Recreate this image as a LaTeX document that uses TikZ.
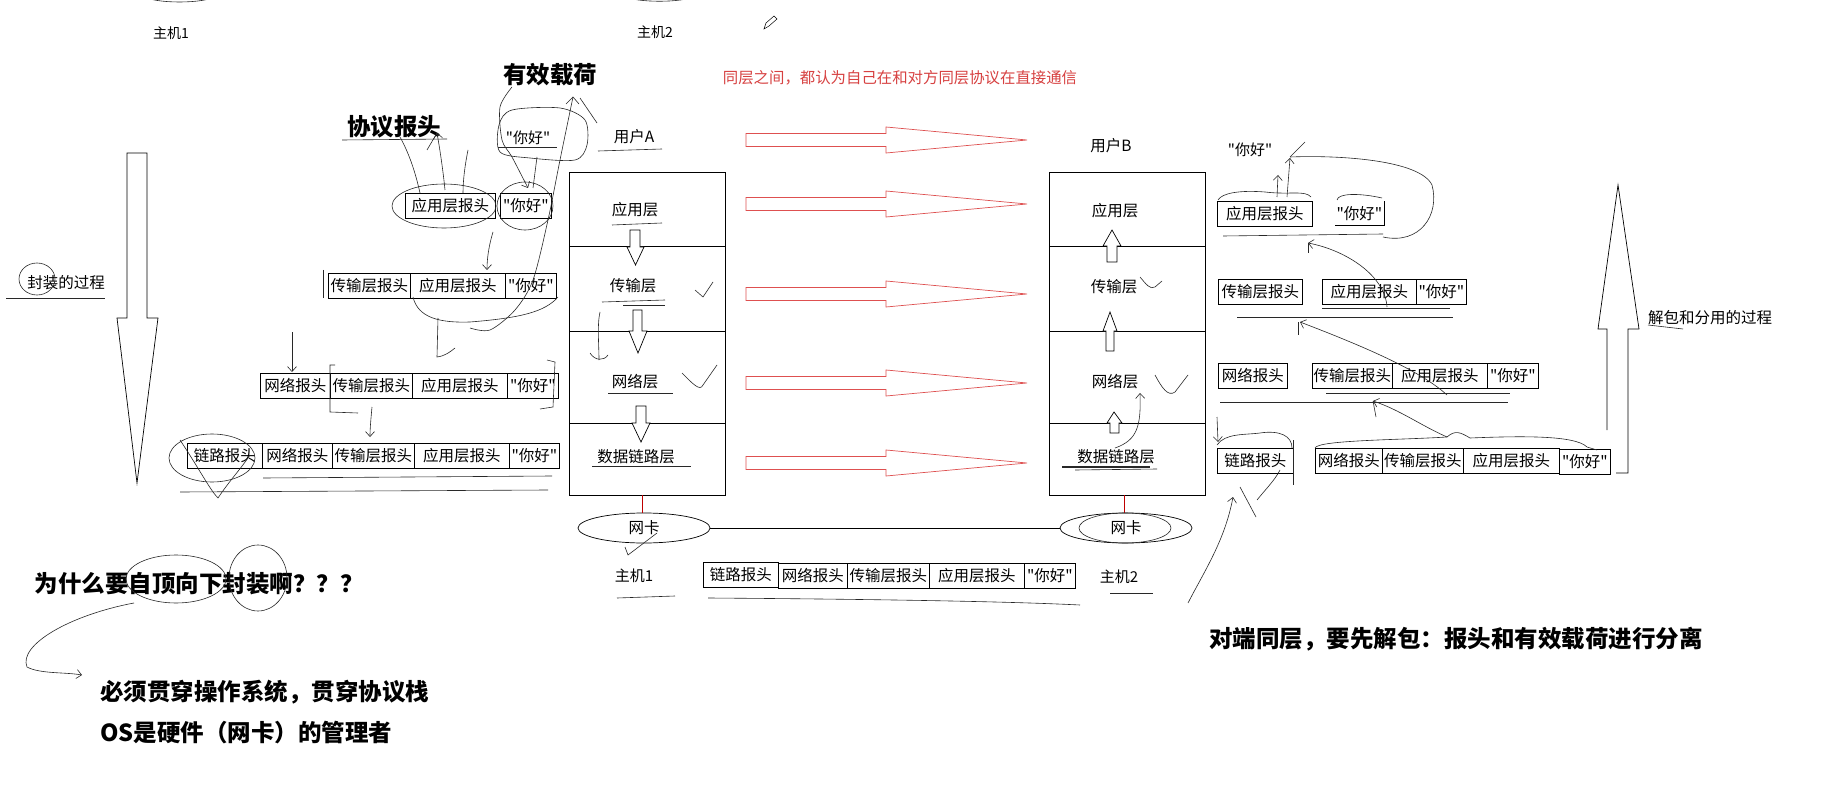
\documentclass[tikz,border=0pt]{standalone}
\usepackage{fontspec}
\setmainfont{Noto Sans CJK SC}[Ligatures=TeXOff]
\usetikzlibrary{shapes.geometric,arrows.meta}
\definecolor{redln}{RGB}{222,80,80}
\definecolor{redtx}{RGB}{215,65,65}
\definecolor{inkc}{RGB}{40,40,40}
\tikzset{
  pk/.style={draw, line width=0.7pt, minimum height=25pt, inner sep=0pt, anchor=north west, font=\fontsize{15.5}{15.5}\selectfont},
  layerbox/.style={draw, line width=0.8pt, anchor=north west, minimum width=156pt, inner sep=0pt},
  lay/.style={font=\fontsize{15.5}{15.5}\selectfont, inner sep=1pt},
  lbl/.style={font=\fontsize{15}{15}\selectfont, inner sep=1pt},
  small/.style={font=\fontsize{14}{14}\selectfont, inner sep=1pt},
  big/.style={font=\bfseries\fontsize{23.5}{23.5}\selectfont, inner sep=1pt},
  ink/.style={line width=0.6pt, draw=inkc},
  inkarr/.style={ink, -{Straight Barb[length=5pt,width=9pt]}},
  redarrow/.style={draw=redln, line width=0.7pt, fill=white},
  blk/.style={draw, line width=0.7pt, fill=white},
  nic/.style={ellipse, draw, line width=0.7pt, minimum width=132pt, minimum height=30pt, inner sep=0pt, font=\fontsize{15.5}{15.5}\selectfont},
}
\begin{document}
\begin{tikzpicture}[x=1pt,y=-1pt]
\fill[white] (0,0) rectangle (1840,805);
\useasboundingbox (0,0) rectangle (1840,805);

% ---------- top labels ----------
\draw[ink] (142,-4) .. controls (155,4) and (204,4) .. (217,-4);
\draw[ink] (623,-4) .. controls (636,3) and (683,3) .. (696,-4);
\node[small] (h1top) at (171,33) {主机1};
\node[small] (h2top) at (655,32) {主机2};
\draw[line width=0.5pt] (764,29) -- (766,23) -- (774,16) -- (777,19) -- (769,26) -- cycle;
\node[font=\fontsize{15.4}{15.4}\selectfont, text=redtx, inner sep=1pt] (peer) at (900,78) {同层之间，都认为自己在和对方同层协议在直接通信};

\node[big] (payload) at (550,75) {有效载荷};
\node[big] (proto) at (394,127) {协议报头};
\draw[ink] (342,140) -- (447,139);
\node[lbl] (hello0) at (528,138) {"你好"};
\draw[ink] (498,147) -- (557,147);

% ---------- left encapsulation packets ----------
\node[pk, minimum width=90pt] (L1a) at (405,193) {应用层报头};
\node[pk, minimum width=51pt] (L1d) at (500,193) {"你好"};

\node[pk, minimum width=82pt] (L2t) at (328,273) {传输层报头};
\node[pk, minimum width=95pt] (L2a) at (410,273) {应用层报头};
\node[pk, minimum width=51pt] (L2d) at (505,273) {"你好"};
\draw[ink] (323,270) -- (323,298);

\node[pk, minimum width=70pt] (L3n) at (260,373) {网络报头};
\node[pk, minimum width=82pt] (L3t) at (330,373) {传输层报头};
\node[pk, minimum width=95pt] (L3a) at (412,373) {应用层报头};
\node[pk, minimum width=51pt] (L3d) at (507,373) {"你好"};

\node[pk, minimum width=75pt] (L4l) at (187,443) {链路报头};
\node[pk, minimum width=70pt] (L4n) at (262,443) {网络报头};
\node[pk, minimum width=82pt] (L4t) at (332,443) {传输层报头};
\node[pk, minimum width=95pt] (L4a) at (414,443) {应用层报头};
\node[pk, minimum width=50pt] (L4d) at (509,443) {"你好"};
\draw[ink] (263,478) -- (552,476);
\draw[ink] (180,492) -- (548,490);

% left big arrow
\draw[line width=0.7pt] (127,153) -- (147,153) -- (147,318) -- (158,318) -- (137,483) -- (117,318) -- (127,318) -- cycle;
\node[lay] (encap) at (66,283) {封装的过程};
\draw[ink] (6,298) -- (105,298);
\draw[ink] (37,279) ellipse [x radius=18pt, y radius=16pt];

% ---------- stack A ----------
\node[lay] (userA) at (634,137) {用户A};
\draw[ink] (598,151) -- (662,149);
\node[layerbox, minimum height=74pt] (A1) at (569,172) {};
\node[layerbox, minimum height=85pt] (A2) at (569,246) {};
\node[layerbox, minimum height=92pt] (A3) at (569,331) {};
\node[layerbox, minimum height=72pt] (A4) at (569,423) {};
\node[lay] (A1t) at (635,210) {应用层};
\node[lay] (A2t) at (633,286) {传输层};
\node[lay] (A3t) at (635,382) {网络层};
\node[lay] (A4t) at (636,457) {数据链路层};
\draw[ink] (612,225) -- (662,223);
\draw[ink] (602,302) -- (665,300);
\draw[ink] (623,305) -- (665,305);
\draw[ink] (608,393) -- (673,393);
\draw[ink] (592,466) -- (691,466);
\draw[blk] (630,230) -- (640,230) -- (640,247) -- (644,247) -- (635.5,265) -- (627,247) -- (630,247) -- cycle;
\draw[blk] (633,310) -- (642,310) -- (642,331) -- (647,331) -- (638,353) -- (629,331) -- (633,331) -- cycle;
\draw[blk] (636,406) -- (646,406) -- (646,423) -- (650,423) -- (641,442) -- (632,423) -- (636,423) -- cycle;
\draw[ink] (695,290) -- (703,297) -- (713,282);
\draw[ink] (682,373) .. controls (692,383) and (700,392) .. (703,385) -- (717,365);
\draw[ink] (600,312) .. controls (597,325) and (599,345) .. (599,360);
\draw[ink] (590,353) .. controls (595,361) and (604,361) .. (608,355);

% ---------- red peer arrows ----------
\foreach \yy in {140,204,294,383,463}{
  \draw[redarrow] (746,\yy-6.5) -- (886,\yy-6.5) -- (886,\yy-13) -- (1027,\yy) -- (886,\yy+13) -- (886,\yy+6.5) -- (746,\yy+6.5) -- cycle;
}

% ---------- stack B ----------
\node[lay] (userB) at (1111,146) {用户B};
\node[layerbox, minimum height=74pt] (B1) at (1049,172) {};
\node[layerbox, minimum height=85pt] (B2) at (1049,246) {};
\node[layerbox, minimum height=92pt] (B3) at (1049,331) {};
\node[layerbox, minimum height=72pt] (B4) at (1049,423) {};
\node[lay] (B1t) at (1115,211) {应用层};
\node[lay] (B2t) at (1114,287) {传输层};
\node[lay] (B3t) at (1115,382) {网络层};
\node[lay] (B4t) at (1116,457) {数据链路层};
\draw[line width=1.6pt, draw=inkc] (1062,467) -- (1150,467);
\draw[ink] (1075,470) -- (1157,469);
\draw[blk] (1112,230) -- (1121,246) -- (1117,246) -- (1117,262) -- (1107,262) -- (1107,246) -- (1103,246) -- cycle;
\draw[blk] (1110,312) -- (1117,331) -- (1114,331) -- (1114,351) -- (1106,351) -- (1106,331) -- (1103,331) -- cycle;
\draw[blk] (1114,412) -- (1122,423) -- (1119,423) -- (1119,433) -- (1110,433) -- (1110,423) -- (1107,423) -- cycle;
\draw[ink] (1140,277) .. controls (1146,284) and (1150,290) .. (1155,287) -- (1162,281);
\draw[ink] (1155,375) .. controls (1162,388) and (1168,397) .. (1175,392) -- (1188,375);
\draw[inkarr] (1115,448) .. controls (1138,440) and (1141,425) .. (1140,393);

% ---------- NICs ----------
\node[nic] (nicA) at (644,528) {网卡};
\node[nic] (nicB) at (1126,528) {网卡};
\coordinate (Abot) at (642,495);
\coordinate (Bbot) at (1124,495);
\draw[red!75!black, line width=0.6pt] (Abot) -- (Abot |- nicA.north);
\draw[red!75!black, line width=0.6pt] (Bbot) -- (Bbot |- nicB.north);
\draw[line width=0.8pt] (nicA.east) -- (nicB.west);
\draw[ink] (1125,528) ellipse [x radius=46pt, y radius=15pt];
\draw[ink] (657,533) -- (628,555) -- (625,547);
\node[lbl] (h1bot) at (634,576) {主机1};
\node[lbl] (h2bot) at (1119,577) {主机2};
\draw[ink] (617,598) -- (675,596);
\draw[ink] (1110,593) -- (1153,593);

\node[pk, minimum width=75pt] (Wl) at (703,562) {链路报头};
\node[pk, minimum width=69pt] (Wn) at (778,563) {网络报头};
\node[pk, minimum width=82pt] (Wt) at (847,563) {传输层报头};
\node[pk, minimum width=95pt] (Wa) at (929,563) {应用层报头};
\node[pk, minimum width=51pt] (Wd) at (1024,563) {"你好"};
\draw[ink] (708,598) .. controls (850,599) and (1000,601) .. (1080,605);

% ---------- right decapsulation packets ----------
\node[lbl] (hello9) at (1250,150) {"你好"};
\node[pk, minimum width=95pt] (R1a) at (1217,201) {应用层报头};
\node[pk, draw=none, minimum width=48pt] (R1d) at (1335,201) {"你好"};
\draw[line width=0.7pt] (1335,225) -- (1384,225) -- (1384,201);
\draw[ink] (1223,236) -- (1383,234);

\node[pk, minimum width=84pt] (R2t) at (1218,279) {传输层报头};
\node[pk, minimum width=94pt] (R2a) at (1322,279) {应用层报头};
\node[pk, minimum width=50pt] (R2d) at (1416,279) {"你好"};
\draw[ink] (1322,308) -- (1450,308);
\draw[ink] (1237,317) -- (1453,317);

\node[pk, minimum width=69pt] (R3n) at (1218,363) {网络报头};
\node[pk, minimum width=80pt] (R3t) at (1312,363) {传输层报头};
\node[pk, minimum width=95pt] (R3a) at (1392,363) {应用层报头};
\node[pk, minimum width=51pt] (R3d) at (1487,363) {"你好"};
\draw[ink] (1326,393) -- (1510,393);
\draw[ink] (1220,402) -- (1508,402);

\node[pk, minimum width=76pt] (R4l) at (1217,448) {链路报头};
\node[pk, minimum width=67pt] (R4n) at (1315,448) {网络报头};
\node[pk, minimum width=81pt] (R4t) at (1382,448) {传输层报头};
\node[pk, minimum width=96pt] (R4a) at (1463,448) {应用层报头};
\node[pk, minimum width=51pt] (R4d) at (1559,449) {"你好"};
\draw[ink] (1293,440) -- (1293,485);

% right big arrow
\draw[line width=0.7pt] (1607,430) -- (1607,329) -- (1598,329) -- (1618,185) -- (1639,329) -- (1628,329) -- (1628,473) -- (1616,473);
\node[lay] (decap) at (1710,318) {解包和分用的过程};
\draw[ink] (1648,325) -- (1683,329);

% ---------- bottom texts ----------
\node[big] (why) at (199,584) {为什么要自顶向下封装啊？？？};
\node[big, anchor=west] (must) at (99,692) {必须贯穿操作系统，贯穿协议栈};
\node[big, anchor=west] (os) at (99,733) {OS是硬件（网卡）的管理者};
\node[big] (peerdec) at (1456,639) {对端同层，要先解包：报头和有效载荷进行分离};
\draw[ink] (176,579) ellipse [x radius=50pt, y radius=24pt];
\draw[ink] (258,578) ellipse [x radius=29pt, y radius=33pt];
\draw[inkarr] (134,603) .. controls (70,615) and (18,645) .. (27,667) .. controls (40,674) and (65,672) .. (82,675);

% ---------- hand annotations, left ----------
\draw[ink] (444,206) ellipse [x radius=52pt, y radius=22pt];
\draw[ink] (525,206) ellipse [x radius=28pt, y radius=24pt];
\draw[ink] plot[smooth cycle] coordinates {(512,110) (560,108) (585,120) (587,145) (575,160) (530,158) (500,152) (499,125)};
\draw[inkarr] plot[smooth] coordinates {(512,87) (500,107) (502,140) (512,157) (528,188)};
\draw[ink] (537,157) -- (533,188);
\draw[ink] plot[smooth] coordinates {(470,328) (490,330) (515,310) (533,280) (548,220) (560,160) (573,97)};
\draw[ink] (566,104) -- (573,97) -- (579,104);
\draw[ink] (580,98) -- (597,123);
\draw[ink] (400,137) .. controls (410,155) and (416,175) .. (420,193);
\draw[inkarr] (445,190) .. controls (443,170) and (440,150) .. (437,133);
\draw[ink] (427,150) -- (437,133);
\draw[ink] (468,150) .. controls (465,165) and (463,180) .. (463,193);
\draw[inkarr] (493,232) .. controls (489,245) and (487,258) .. (487,270);
\draw[ink] (413,297) .. controls (418,318) and (440,323) .. (470,322) .. controls (520,318) and (545,312) .. (558,297);
\draw[ink] (438,318) -- (437,357) .. controls (445,356) and (450,352) .. (455,348);
\draw[inkarr] (292,332) -- (292,372);
\draw[ink] (335,365) -- (330,365) -- (330,412) -- (358,413);
\draw[ink] (547,360) -- (555,362) -- (553,407) -- (540,409);
\draw[inkarr] (372,407) .. controls (371,418) and (370,428) .. (370,437);
\draw[ink] (212,458) ellipse [x radius=43pt, y radius=24pt];
\draw[ink] (180,440) .. controls (200,470) and (210,490) .. (218,498) .. controls (230,480) and (240,470) .. (250,455);

% ---------- hand annotations, right ----------
\draw[ink] (1218,200) .. controls (1222,193) and (1240,190) .. (1265,192) .. controls (1290,195) and (1305,190) .. (1311,197);
\draw[ink] (1337,200) .. controls (1338,193) and (1360,193) .. (1382,198);
\draw[inkarr] (1277,197) -- (1278,175);
\draw[inkarr] (1287,197) -- (1290,158);
\draw[ink] (1383,237) .. controls (1420,245) and (1440,215) .. (1432,185) .. controls (1420,160) and (1340,155) .. (1290,157);
\draw[ink] (1290,157) -- (1305,142);
\draw[inkarr] (1387,307) .. controls (1385,275) and (1345,250) .. (1308,243);
\draw[ink] (1308,243) -- (1308,253);
\draw[inkarr] (1447,395) .. controls (1420,370) and (1360,345) .. (1300,322);
\draw[ink] (1298,322) -- (1298,335);
\draw[inkarr] (1447,437) .. controls (1420,425) and (1400,410) .. (1373,401);
\draw[ink] (1373,401) -- (1376,417);
\draw[ink] (1315,448) .. controls (1318,440) and (1400,440) .. (1447,437) .. controls (1455,430) and (1460,432) .. (1470,438) .. controls (1520,436) and (1575,435) .. (1587,447) -- (1597,450);
\draw[ink] (1217,445) .. controls (1225,433) and (1245,435) .. (1260,433) .. controls (1280,430) and (1292,436) .. (1292,448);
\draw[inkarr] (1217,417) -- (1218,442);
\draw[ink] (1240,487) -- (1256,517);
\draw[ink] (1257,500) .. controls (1265,490) and (1275,480) .. (1280,470);
\draw[inkarr] (1188,603) .. controls (1205,570) and (1225,540) .. (1233,497);
\end{tikzpicture}
\end{document}
